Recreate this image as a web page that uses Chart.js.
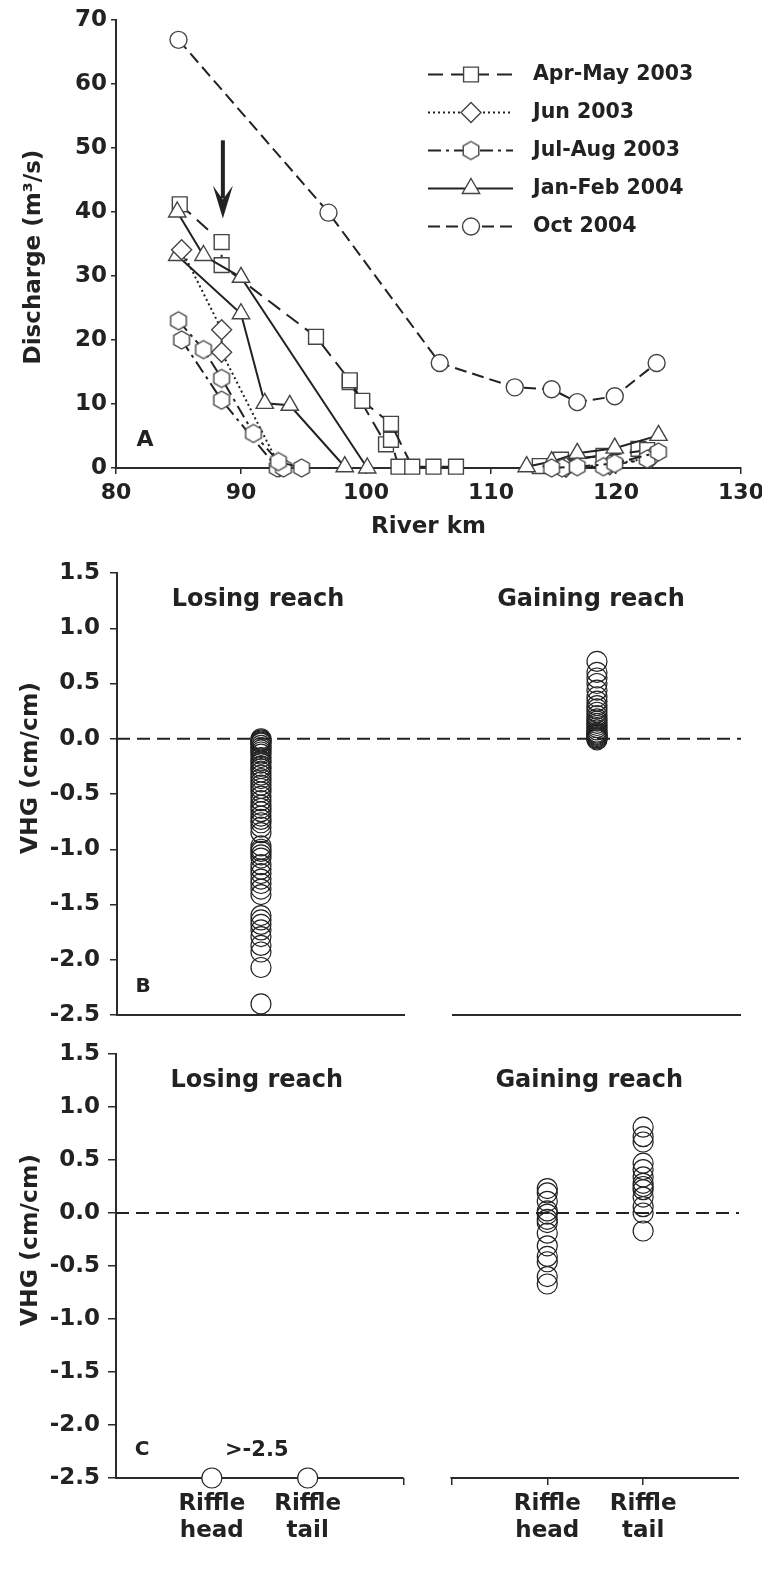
<!DOCTYPE html>
<html>
<head>
<meta charset="utf-8">
<script src="https://cdn.jsdelivr.net/npm/chart.js@4.4.1/dist/chart.umd.min.js"></script>
<style>
  html, body { margin: 0; padding: 0; background: #fff; overflow: hidden; }
  #page { position: relative; width: 762px; height: 1574px; overflow: hidden; background: #fff; }
  #page canvas { position: absolute; left: 0; }
</style>
</head>
<body>
<div id="page">
  <canvas id="chartA" width="780" height="545" style="top:0"></canvas>
  <canvas id="chartB" width="762" height="510" style="top:530px"></canvas>
  <canvas id="chartC" width="762" height="544" style="top:1030px"></canvas>
</div>
<script>
// ---- Panel A: discharge along the river (km, m3/s); null = break across the unsurveyed reach
const aprMay1Km = [85.1, 88.45, 88.45, 96, 98.7, 99.7, 102, 103.7, 105.4, 107.2, 110, 115.6, 119, 122.5];
const aprMay1Q  = [41.2, 35.3, 31.7, 20.5, 13.7, 10.5, 6.9, 0.2, 0.2, 0.2, null, 1.3, 1.9, 2.8];
const aprMay2Km = [98.7, 101.6, 102, 102.6, 110, 113.9, 121.8];
const aprMay2Q  = [13.4, 3.7, 4.4, 0.2, null, 0.3, 3.0];
const jun03Km = [85.25, 88.45, 88.45, 93.1, 110, 116, 119.5, 122.8];
const jun03Q  = [34.1, 21.6, 18.1, 0.2, null, 0.1, 0.5, 1.6];
const julAug1Km = [85, 87, 88.45, 91, 93, 94.85, 110, 114.85, 116.9, 119.9, 123.4];
const julAug1Q  = [23, 18.5, 14, 5.4, 1, 0, null, 0, 0.2, 0.7, 2.5];
const julAug2Km = [85.25, 88.45, 92.9, 93.4, 110, 115.7, 119, 122.5];
const julAug2Q  = [20, 10.6, 0, 0, null, 0, 0.2, 1.4];
const janFeb1Km = [84.9, 87, 90, 100.1, 110, 112.85, 114.85, 116.9, 119.9, 123.4];
const janFeb1Q  = [40, 33.2, 29.8, 0, null, 0.2, 1.0, 2.3, 3.1, 5.1];
const janFeb2Km = [84.9, 90, 91.9, 93.9, 98.3];
const janFeb2Q  = [33.2, 24.1, 10.1, 9.8, 0.2];
const oct04Km = [85, 97, 105.9, 111.9, 114.85, 116.9, 119.9, 123.25];
const oct04Q  = [66.9, 39.9, 16.4, 12.6, 12.3, 10.3, 11.2, 16.4];
const legendOrder = ['Apr-May 2003', 'Jun 2003', 'Jul-Aug 2003', 'Jan-Feb 2004', 'Oct 2004'];
const arrowKm = 88.55;
const arrowQ = [51.2, 39];

// ---- Panels B and C: vertical hydraulic gradient (cm/cm)
const reachNames = ['Losing reach', 'Gaining reach'];
const riffleLabels = ['Riffle head', 'Riffle tail'];
const vhgLosingB = [0.0, -0.01, -0.02, -0.03, -0.04, -0.06, -0.08, -0.1, -0.12, -0.14, -0.17, -0.2, -0.22,
  -0.25, -0.27, -0.3, -0.33, -0.36, -0.39, -0.42, -0.45, -0.48, -0.52, -0.56, -0.6, -0.63, -0.66, -0.7,
  -0.73, -0.76, -0.8, -0.85, -0.97, -1.0, -1.02, -1.05, -1.08, -1.14, -1.18, -1.22, -1.27, -1.31, -1.36,
  -1.41, -1.6, -1.64, -1.68, -1.73, -1.79, -1.87, -1.93, -2.07, -2.4];
const vhgGainingB = [0.7, 0.6, 0.55, 0.5, 0.44, 0.38, 0.34, 0.3, 0.27, 0.24, 0.21, 0.18, 0.16, 0.14,
  0.12, 0.1, 0.08, 0.06, 0.05, 0.04, 0.03, 0.02, 0.01, 0.0, -0.01];
const vhgLosingHeadC = [-2.5];
const vhgLosingTailC = [-2.5];
const vhgGainingHeadC = [0.23, 0.19, 0.11, 0.02, -0.01, -0.06, -0.09, -0.19, -0.31, -0.41, -0.46, -0.6, -0.67];
const vhgGainingTailC = [0.81, 0.72, 0.67, 0.47, 0.41, 0.34, 0.28, 0.25, 0.22, 0.15, 0.06, 0.0, -0.17];
const offScaleNote = '>-2.5';

const INK = '#222';
const AXIS = '#2b2b2b';
const FONT = "'DejaVu Sans', 'Liberation Sans', sans-serif";
Chart.defaults.font.family = FONT;
Chart.defaults.font.weight = 'bold';
Chart.defaults.color = INK;
Chart.defaults.animation = false;

// broken x axis of B and C: two segments on one linear scale
const leftSeg = [0, 3];
const rightSeg = [3.5, 6.5];
const catX = (seg, i) => seg[0] + i + 1;

function hexagonImage(r) {
  const c = document.createElement('canvas');
  const s = Math.ceil(r * 2 + 4);
  c.width = s; c.height = s;
  const g = c.getContext('2d');
  g.beginPath();
  for (let i = 0; i < 6; i++) {
    const a = -Math.PI / 2 + i * Math.PI / 3;
    const px = s / 2 + r * Math.cos(a), py = s / 2 + r * Math.sin(a);
    if (i) g.lineTo(px, py); else g.moveTo(px, py);
  }
  g.closePath();
  g.fillStyle = '#fff'; g.fill();
  g.strokeStyle = '#444'; g.lineWidth = 1.4; g.stroke();
  return c;
}

const seriesStyle = {
  'Apr-May 2003': { pointStyle: 'rect', radius: 10.5, dash: [15, 8] },
  'Jun 2003': { pointStyle: 'rectRot', radius: 10, dash: [2, 3] },
  'Jul-Aug 2003': { pointStyle: hexagonImage(9), radius: 9, dash: [13, 5, 3, 5] },
  'Jan-Feb 2004': { pointStyle: 'triangle', radius: 10, dash: [] },
  'Oct 2004': { pointStyle: 'circle', radius: 8.5, dash: [12, 6] }
};

const toPoints = (km, q) => km.map((k, i) => ({ x: k, y: q[i] }));

function series(label, km, q) {
  const s = seriesStyle[label];
  return {
    label,
    data: toPoints(km, q),
    showLine: true,
    spanGaps: false,
    borderColor: INK,
    borderWidth: 2,
    borderDash: s.dash,
    pointStyle: s.pointStyle,
    pointRadius: s.radius,
    pointHoverRadius: s.radius,
    pointBackgroundColor: '#fff',
    pointBorderColor: '#444',
    pointBorderWidth: 1.4,
    clip: false
  };
}

function drawVerticalTitle(ctx, text, x, y, size) {
  ctx.save();
  ctx.translate(x, y);
  ctx.rotate(-Math.PI / 2);
  ctx.font = `bold ${size}px ${FONT}`;
  ctx.fillStyle = INK;
  ctx.textAlign = 'center';
  ctx.textBaseline = 'middle';
  ctx.fillText(text, 0, 0);
  ctx.restore();
}

function drawLabel(ctx, text, x, y, size) {
  ctx.save();
  ctx.font = `bold ${size}px ${FONT}`;
  ctx.fillStyle = INK;
  ctx.textAlign = 'center';
  ctx.textBaseline = 'middle';
  ctx.fillText(text, x, y);
  ctx.restore();
}

const panelAExtras = {
  id: 'panelAExtras',
  afterDraw(chart) {
    const { ctx, chartArea, scales: { x, y } } = chart;
    drawVerticalTitle(ctx, 'Discharge (m³/s)', 34, (chartArea.top + chartArea.bottom) / 2 + 13, 23);
    drawLabel(ctx, 'A', chartArea.left + 29, chartArea.bottom - 28, 22);

    // arrow marking the diversion
    const ax = x.getPixelForValue(arrowKm);
    const y0 = y.getPixelForValue(arrowQ[0]);
    const y1 = y.getPixelForValue(arrowQ[1]);
    ctx.save();
    ctx.strokeStyle = INK; ctx.fillStyle = INK;
    ctx.lineWidth = 4;
    ctx.beginPath(); ctx.moveTo(ax, y0); ctx.lineTo(ax, y1 - 20); ctx.stroke();
    ctx.beginPath();
    ctx.moveTo(ax, y1);
    ctx.lineTo(ax - 10, y1 - 33);
    ctx.lineTo(ax, y1 - 19);
    ctx.lineTo(ax + 10, y1 - 33);
    ctx.closePath(); ctx.fill();
    ctx.restore();

    // legend: line + marker + text
    const lx0 = 428, lx1 = 513, mx = 471, tx = 533;
    legendOrder.forEach((name, i) => {
      const s = seriesStyle[name];
      const ly = 74.5 + i * 38;
      ctx.save();
      ctx.strokeStyle = INK; ctx.lineWidth = 2;
      ctx.setLineDash(s.dash);
      ctx.beginPath(); ctx.moveTo(lx0, ly); ctx.lineTo(lx1, ly); ctx.stroke();
      ctx.setLineDash([]);
      ctx.fillStyle = '#fff'; ctx.strokeStyle = '#444'; ctx.lineWidth = 1.4;
      Chart.helpers.drawPoint(ctx, { pointStyle: s.pointStyle, rotation: 0, radius: s.radius, borderWidth: 1.4 }, mx, ly);
      ctx.font = `bold 20.5px ${FONT}`;
      ctx.fillStyle = INK;
      ctx.textAlign = 'left'; ctx.textBaseline = 'middle';
      ctx.fillText(name, tx, ly);
      ctx.restore();
    });
  }
};

const vhgExtras = {
  id: 'vhgExtras',
  beforeDatasetsDraw(chart) {
    const { ctx, chartArea, scales: { x, y } } = chart;
    ctx.save();
    // zero line
    ctx.strokeStyle = INK; ctx.lineWidth = 2;
    ctx.setLineDash([13, 7]);
    const y0 = y.getPixelForValue(0);
    ctx.beginPath(); ctx.moveTo(chartArea.left, y0); ctx.lineTo(chartArea.right, y0); ctx.stroke();
    // broken x axis
    ctx.setLineDash([]);
    ctx.strokeStyle = AXIS;
    [leftSeg, rightSeg].forEach(seg => {
      ctx.beginPath();
      ctx.moveTo(x.getPixelForValue(seg[0]) - 1, chartArea.bottom);
      ctx.lineTo(x.getPixelForValue(seg[1]), chartArea.bottom);
      ctx.stroke();
    });
    ctx.restore();
  },
  afterDraw(chart, args, opts) {
    const { ctx, chartArea, scales: { x } } = chart;
    const mid = (seg) => (x.getPixelForValue(seg[0]) + x.getPixelForValue(seg[1])) / 2;
    drawVerticalTitle(ctx, 'VHG (cm/cm)', 31, (chartArea.top + chartArea.bottom) / 2 - 26, 23.5);
    drawLabel(ctx, reachNames[0], mid(leftSeg) - 3, chartArea.top + 27, 24);
    drawLabel(ctx, reachNames[1], mid(rightSeg) - 6, chartArea.top + 27, 24);
    drawLabel(ctx, opts.letter, chartArea.left + 26, chartArea.bottom - 28, 20);
    if (opts.note) {
      const nx = (x.getPixelForValue(catX(leftSeg, 0)) + x.getPixelForValue(catX(leftSeg, 1))) / 2 - 3;
      drawLabel(ctx, opts.note, nx, chartArea.bottom - 27, 21);
    }
  }
};

function vhgSet(xPos, values, fill) {
  return {
    data: values.map(v => ({ x: xPos, y: v })),
    showLine: false,
    pointStyle: 'circle',
    pointRadius: 10,
    pointHoverRadius: 10,
    pointBorderColor: INK,
    pointBorderWidth: 1.2,
    pointBackgroundColor: fill || 'rgba(255,255,255,0)',
    clip: false
  };
}

function vhgYScale(width, tickLength, padding) {
  return {
    min: -2.5, max: 1.5,
    ticks: { stepSize: 0.5, font: { size: 23 }, padding, color: INK, callback: v => v.toFixed(1) },
    grid: { drawOnChartArea: false, tickLength, color: AXIS, lineWidth: 1.5 },
    border: { color: AXIS, width: 2 },
    afterFit: s => { s.width = width; }
  };
}

// Panel A
new Chart(document.getElementById('chartA'), {
  type: 'scatter',
  data: {
    datasets: [
      series('Oct 2004', oct04Km, oct04Q),
      series('Jul-Aug 2003', julAug1Km, julAug1Q),
      series('Jul-Aug 2003', julAug2Km, julAug2Q),
      series('Jun 2003', jun03Km, jun03Q),
      series('Jan-Feb 2004', janFeb1Km, janFeb1Q),
      series('Jan-Feb 2004', janFeb2Km, janFeb2Q),
      series('Apr-May 2003', aprMay1Km, aprMay1Q),
      series('Apr-May 2003', aprMay2Km, aprMay2Q)
    ]
  },
  options: {
    responsive: false,
    devicePixelRatio: 1,
    layout: { padding: { top: 20, right: 39, left: 0, bottom: 0 } },
    plugins: { legend: { display: false }, tooltip: { enabled: false } },
    scales: {
      x: {
        type: 'linear', min: 80, max: 130,
        ticks: { stepSize: 10, font: { size: 22 }, padding: 6, color: INK },
        grid: { drawOnChartArea: false, tickLength: 6, color: AXIS, lineWidth: 1.5 },
        border: { color: AXIS, width: 2 },
        title: { display: true, text: 'River km', font: { size: 23 }, color: INK, padding: { top: 0, bottom: 4 } },
        afterFit: s => { s.height = 77; }
      },
      y: {
        min: 0, max: 70,
        ticks: { stepSize: 10, font: { size: 23 }, padding: 4, color: INK },
        grid: { drawOnChartArea: false, tickLength: 5, color: AXIS, lineWidth: 1.5 },
        border: { color: AXIS, width: 2 },
        afterFit: s => { s.width = 116; }
      }
    }
  },
  plugins: [panelAExtras]
});

// Panel B
new Chart(document.getElementById('chartB'), {
  type: 'scatter',
  data: {
    datasets: [
      vhgSet(leftSeg[0] + 1.5, vhgLosingB),
      vhgSet(rightSeg[0] + 1.5, vhgGainingB)
    ]
  },
  options: {
    responsive: false,
    devicePixelRatio: 1,
    layout: { padding: { top: 43, right: 21, left: 0, bottom: 0 } },
    plugins: { legend: { display: false }, tooltip: { enabled: false }, vhgExtras: { letter: 'B' } },
    scales: {
      x: {
        type: 'linear', min: leftSeg[0], max: rightSeg[1],
        ticks: { display: false },
        grid: { display: false },
        border: { display: false },
        afterFit: s => { s.height = 25; }
      },
      y: vhgYScale(117, 7, 10)
    }
  },
  plugins: [vhgExtras]
});

// Panel C
const riffleTickValues = [catX(leftSeg, 0), catX(leftSeg, 1), leftSeg[1], rightSeg[0], catX(rightSeg, 0), catX(rightSeg, 1)];
function riffleLabelFor(v) {
  for (let i = 0; i < riffleLabels.length; i++) {
    if (v === catX(leftSeg, i) || v === catX(rightSeg, i)) return riffleLabels[i].split(' ');
  }
  return '';
}

new Chart(document.getElementById('chartC'), {
  type: 'scatter',
  data: {
    datasets: [
      vhgSet(catX(rightSeg, 0), vhgGainingHeadC),
      vhgSet(catX(rightSeg, 1), vhgGainingTailC),
      vhgSet(catX(leftSeg, 0), vhgLosingHeadC, '#fff'),
      vhgSet(catX(leftSeg, 1), vhgLosingTailC, '#fff')
    ]
  },
  options: {
    responsive: false,
    devicePixelRatio: 1,
    layout: { padding: { top: 24, right: 23, left: 0, bottom: 0 } },
    plugins: { legend: { display: false }, tooltip: { enabled: false }, vhgExtras: { letter: 'C', note: offScaleNote } },
    scales: {
      x: {
        type: 'linear', min: leftSeg[0], max: rightSeg[1],
        afterBuildTicks: s => { s.ticks = riffleTickValues.map(v => ({ value: v })); },
        ticks: { stepSize: 0.5, autoSkip: false, maxRotation: 0, minRotation: 0, font: { size: 23 }, padding: 5, color: INK,
                 callback: v => riffleLabelFor(v) },
        grid: { drawOnChartArea: false, tickLength: 7, color: AXIS, lineWidth: 1.5 },
        border: { display: false },
        afterFit: s => { s.height = 96; }
      },
      y: vhgYScale(116, 8, 8)
    }
  },
  plugins: [vhgExtras]
});
</script>
</body>
</html>
